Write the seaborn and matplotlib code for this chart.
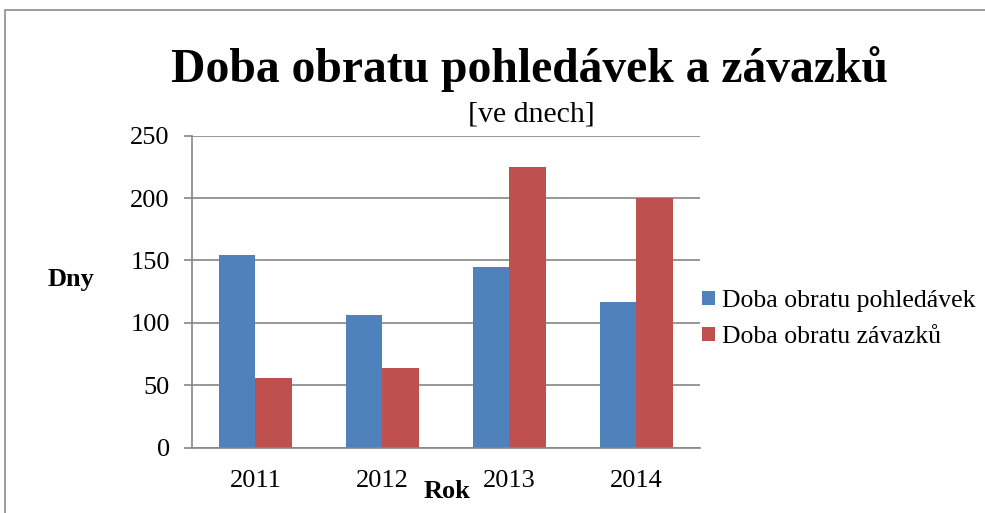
"""
Doba obratu pohledávek a závazků - sloupcový graf.
"""

import matplotlib
matplotlib.use("Agg")
import matplotlib.pyplot as plt
import seaborn as sns
import pandas as pd
from matplotlib.patches import Rectangle

roky = ["2011", "2012", "2013", "2014"]
pohledavky = [154, 106, 145, 117]
zavazky = [56, 64, 225, 200]
serie = ["Doba obratu pohledávek", "Doba obratu závazků"]
barvy = ["#4F81BD", "#C0504D"]

df = pd.DataFrame({
    "Rok": roky * 2,
    "Dny": pohledavky + zavazky,
    "Serie": [serie[0]] * len(roky) + [serie[1]] * len(roky),
})

sns.set_style("white")
plt.rcParams["font.family"] = ["Liberation Serif", "DejaVu Serif"]
plt.rcParams["text.color"] = "black"
plt.rcParams["axes.labelcolor"] = "black"

seda = "#868686"

fig = plt.figure(figsize=(9.85, 5.13), dpi=100)
ax = fig.add_axes([0.1949, 0.1273, 0.5157, 0.6082])

sns.barplot(data=df, x="Rok", y="Dny", hue="Serie", palette=barvy,
            width=0.575, ax=ax, saturation=1, edgecolor="none")

ax.set_ylim(0, 250)
ax.set_yticks(range(0, 251, 50))
ax.set_xlim(-0.5, 3.5)
ax.yaxis.grid(True, color=seda, linewidth=1.2)
ax.set_axisbelow(True)
for s in ["top", "right"]:
    ax.spines[s].set_visible(False)
for s in ["left", "bottom"]:
    ax.spines[s].set_color(seda)
    ax.spines[s].set_linewidth(1.2)

ax.set_xticks(range(len(roky)))
ax.set_xticklabels(roky)
ax.set_xticks([i - 0.5 for i in range(len(roky) + 1)], minor=True)
ax.tick_params(axis="x", which="major", length=0, labelsize=19, pad=16,
               labelcolor="black")
ax.tick_params(axis="x", which="minor", length=5, color=seda, width=1.2,
               direction="out")
ax.tick_params(axis="y", length=6, color=seda, width=1.2, direction="out",
               labelsize=19, pad=10, left=True, labelcolor="black")

ax.set_xlabel("Rok", fontsize=19, fontweight="bold", va="center")
ax.xaxis.set_label_coords(0.502, -0.139)
ax.set_ylabel("Dny", fontsize=19, fontweight="bold", rotation=0,
              va="center", ha="center")
ax.yaxis.set_label_coords(-0.239, 0.5375)

ax.legend(loc="center left", bbox_to_anchor=(0.7127, 0.378),
          bbox_transform=fig.transFigure, frameon=False,
          fontsize=18.5, handlelength=0.5, handleheight=0.5,
          handletextpad=0.27, labelspacing=0.55, borderpad=0,
          borderaxespad=0)

fig.text(0.538, 0.865, "Doba obratu pohledávek a závazků", ha="center",
         va="center", fontsize=34.3, fontweight="bold")
fig.text(0.539, 0.776, "[ve dnech]", ha="center", va="center", fontsize=21.5)

fig.patches.append(Rectangle((0.005, -0.1), 1.2, 1.08, transform=fig.transFigure,
                             fill=False, edgecolor="#8c8c8c", linewidth=1.2))

fig.savefig("out.png", dpi=100)
